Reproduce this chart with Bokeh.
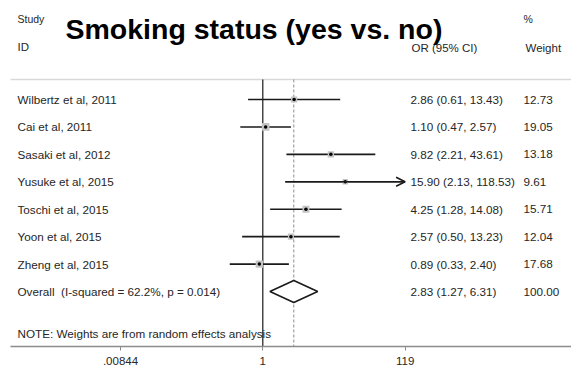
import numpy as np
from bokeh.plotting import figure
from bokeh.models import Range1d, FixedTicker, ColumnDataSource, Arrow, OpenHead, CustomJSTickFormatter
from bokeh.core.properties import value
from bokeh.embed import file_html
from bokeh.resources import INLINE

# ---- data ----
studies = ["Wilbertz et al, 2011", "Cai et al, 2011", "Sasaki et al, 2012", "Yusuke et al, 2015",
           "Toschi et al, 2015", "Yoon et al, 2015", "Zheng et al, 2015"]
or_est = [2.86, 1.10, 9.82, 15.90, 4.25, 2.57, 0.89]
ci_lo = [0.61, 0.47, 2.21, 2.13, 1.28, 0.50, 0.33]
ci_hi = [13.43, 2.57, 43.61, 118.53, 14.08, 13.23, 2.40]
weights = [12.73, 19.05, 13.18, 9.61, 15.71, 12.04, 17.68]
overall_label = "Overall\u00a0 (I-squared = 62.2%, p = 0.014)"
overall_est, overall_lo, overall_hi, overall_w = 2.83, 1.27, 6.31, 100.00
tick_vals = [0.00844, 1, 119]
tick_labels = [".00844", "1", "119"]
title = "Smoking status (yes vs. no)"
note = "NOTE: Weights are from random effects analysis"

# ---- layout ----
FW, FH = 571, 346
PX_PER_LN = 29.8
NULL_PX = 262.3
ROW_Y0, ROW_DY = 99.0, 27.43
TOP_RULE = 79
FONT = value("Liberation Sans")
TXT = "#262626"


def xd(px):
    return float(np.exp((px - NULL_PX) / PX_PER_LN))


p = figure(frame_width=FW, frame_height=FH, x_axis_type="log",
           x_range=Range1d(xd(0), xd(FW)), y_range=Range1d(FH, 0),
           output_backend="svg", toolbar_location=None, y_axis_location=None,
           min_border=0, background_fill_color="white", border_fill_color="white")
p.xgrid.visible = False
p.ygrid.visible = False
p.outline_line_color = None

ax = p.xaxis[0]
ax.ticker = FixedTicker(ticks=tick_vals, minor_ticks=[])
ax.formatter = CustomJSTickFormatter(args=dict(labels=tick_labels), code="return labels[index];")
ax.axis_line_color = "#8c8c8c"
ax.axis_line_width = 1.5
ax.major_tick_line_color = "#8c8c8c"
ax.major_tick_out = 4
ax.major_tick_in = 0
ax.minor_tick_line_color = None
ax.major_label_standoff = 6
ax.major_label_text_font = "Liberation Sans"
ax.major_label_text_font_size = "11.5px"
ax.major_label_text_color = TXT
ax.bounds = (xd(10), xd(FW))

n = len(studies)
ys = [ROW_Y0 + i * ROW_DY for i in range(n)]
y_over = ROW_Y0 + n * ROW_DY

# top gray rule
p.segment(x0=[xd(10)], x1=[xd(FW)], y0=[TOP_RULE], y1=[TOP_RULE], line_color="#d9d9d9", line_width=1.5)
# null line & overall dashed line
p.segment(x0=[1], x1=[1], y0=[TOP_RULE], y1=[FH], line_color="#1a1a1a", line_width=1.2)
p.segment(x0=[overall_est], x1=[overall_est], y0=[TOP_RULE], y1=[FH], line_color="#8c8c8c",
          line_width=1, line_dash="3 2")

src = ColumnDataSource(dict(y=ys, est=or_est, lo=ci_lo, hi=ci_hi, w=weights,
                            size=[1.75 * np.sqrt(w) for w in weights]))
p.segment(x0="lo", x1="hi", y0="y", y1="y", source=src, line_color="#1a1a1a", line_width=1.6)
p.scatter(x="est", y="y", size="size", marker="square", source=src, fill_color="#c4c4c4",
          line_color=None)
p.scatter(x="est", y="y", size=3.5, marker="circle", source=src, fill_color="black",
          line_color=None)

# arrow for CI running off the scale
for i in range(n):
    if ci_hi[i] > 100:
        p.add_layout(Arrow(x_start=ci_lo[i], y_start=ys[i], x_end=ci_hi[i], y_end=ys[i],
                           line_color="#1a1a1a", line_width=1.6,
                           end=OpenHead(size=9, line_color="#1a1a1a", line_width=1.6)))

# overall diamond
p.patch(x=[overall_lo, overall_est, overall_hi, overall_est],
        y=[y_over, y_over - 11, y_over, y_over + 11],
        fill_color="white", line_color="#1a1a1a", line_width=1.6)

# text columns
labels_all = studies + [overall_label]
ci_txt = [f"{e:.2f} ({l:.2f}, {h:.2f})" for e, l, h in zip(or_est, ci_lo, ci_hi)]
ci_txt.append(f"{overall_est:.2f} ({overall_lo:.2f}, {overall_hi:.2f})")
w_txt = [f"{w:.2f}" for w in weights] + [f"{overall_w:.2f}"]
ys_all = ys + [y_over]

common = dict(text_font=FONT, text_font_size="11.7px", text_color=TXT, text_baseline="middle",
              text_align="left")
p.text(x=[xd(17)] * len(ys_all), y=ys_all, text=labels_all, **common)
p.text(x=[xd(410)] * len(ys_all), y=ys_all, text=ci_txt, **common)
p.text(x=[xd(523)] * len(ys_all), y=ys_all, text=w_txt, **common)

# headers
p.text(x=[xd(17), xd(17), xd(411), xd(523), xd(525)], y=[18, 46, 47, 18, 47],
       text=["Study", "ID", "OR (95% CI)", "%", "Weight"],
       text_font=FONT, text_font_size=["10.5px", "11.5px", "11.5px", "10.5px", "11.5px"],
       text_color=TXT, text_baseline="middle", text_align="left")
p.text(x=[xd(65)], y=[28], text=[title], text_font=FONT, text_font_size="28.5px",
       text_font_style="bold", text_color="black", text_baseline="alphabetic", text_align="left")
p.text(x=[xd(17)], y=[333], text=[note], **common)

open("out.html", "w").write(file_html(p, INLINE))
